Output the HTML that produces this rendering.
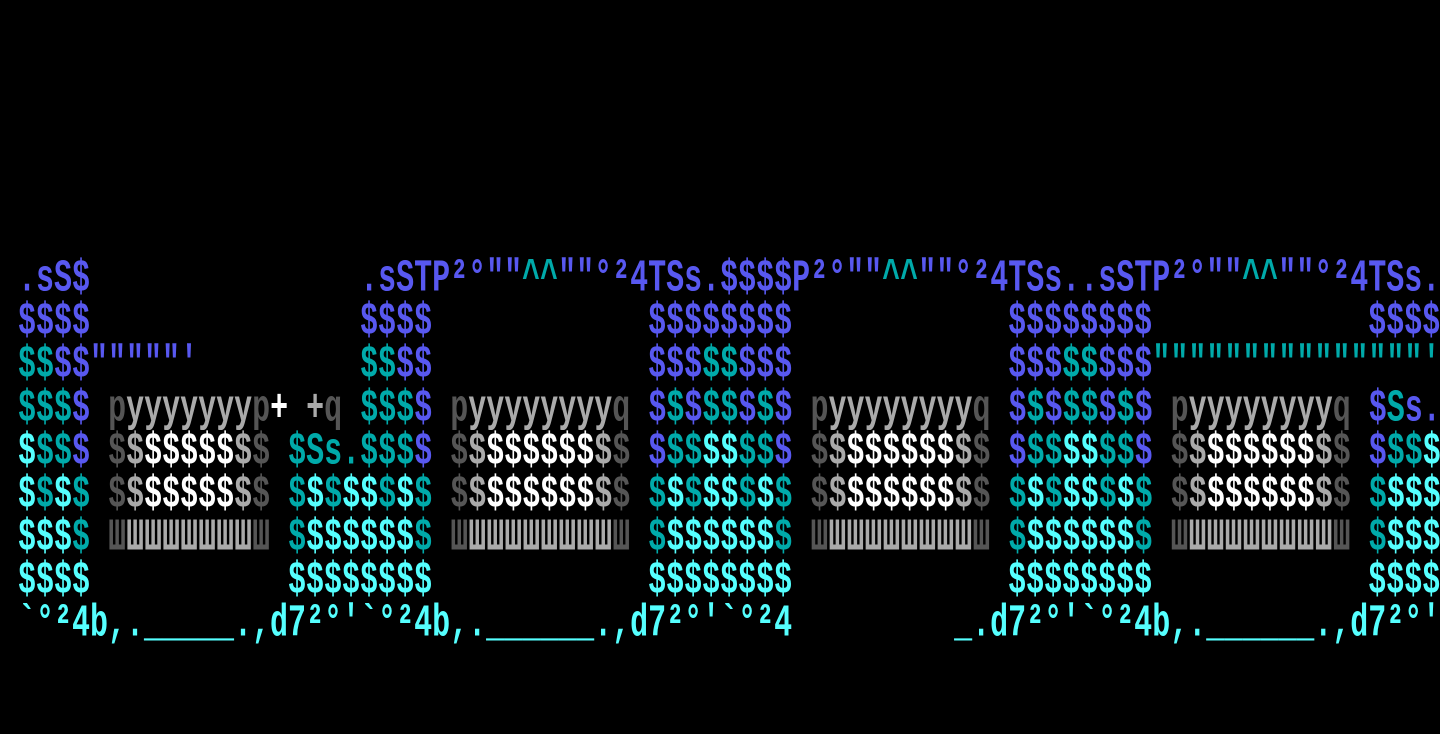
<!DOCTYPE html>
<html><head><meta charset="utf-8"><style>
html,body{margin:0;padding:0;background:#000;width:1440px;height:734px;overflow:hidden}
.r{position:absolute;left:0;height:29px;white-space:pre;font-family:"Liberation Mono",monospace;font-weight:bold;font-size:30px;line-height:29px;letter-spacing:0;transform:scaleY(1.5);transform-origin:0 0;color:#55ffff}
.b{color:#5858f0}.t{color:#00aaaa}.c{color:#55ffff}.d{color:#555}.g{color:#aaa}.w{color:#fff}
</style></head><body>
<div class="r" style="top:259px"> <span class="b">.sS$</span>               <span class="b">.sSTP²°""</span><span class="t">^^</span><span class="b">""°²4TSs.$$$$P²°""</span><span class="t">^^</span><span class="b">""°²4TSs..sSTP²°""</span><span class="t">^^</span><span class="b">""°²4TSs.</span></div>
<div class="r b" style="top:302px"> $$$$               $$$$            $$$$$$$$            $$$$$$$$            $$$$</div>
<div class="r" style="top:345px"> <span class="t">$$</span><span class="b">$$"""""'</span>         <span class="t">$$</span><span class="b">$$</span>            <span class="b">$$$</span><span class="t">$$</span><span class="b">$$$</span>            <span class="b">$$$</span><span class="t">$$</span><span class="b">$$$</span><span class="t">"""""""""""""""'</span></div>
<div class="r" style="top:389px"> <span class="t">$$$</span><span class="b">$</span> <span class="d">p</span><span class="g">yyyyyyy</span><span class="d">p</span><span class="w">+</span> <span class="g">+</span><span class="d">q</span> <span class="t">$$$</span><span class="b">$</span> <span class="d">p</span><span class="g">yyyyyyyy</span><span class="d">q</span> <span class="b">$</span><span class="t">$</span><span class="b">$</span><span class="t">$$</span><span class="b">$</span><span class="t">$</span><span class="b">$</span> <span class="d">p</span><span class="g">yyyyyyyy</span><span class="d">q</span> <span class="b">$</span><span class="t">$</span><span class="b">$</span><span class="t">$$</span><span class="b">$</span><span class="t">$</span><span class="b">$</span> <span class="d">p</span><span class="g">yyyyyyyy</span><span class="d">q</span> <span class="b">$</span><span class="t">S</span><span class="b">s.</span></div>
<div class="r" style="top:432px"> <span class="c">$</span><span class="t">$$</span><span class="b">$</span> <span class="d">$</span><span class="g">$</span><span class="w">$$$$$</span><span class="g">$</span><span class="d">$</span> <span class="t">$Ss.$$$</span><span class="b">$</span> <span class="d">$</span><span class="g">$</span><span class="w">$$$$$$</span><span class="g">$</span><span class="d">$</span> <span class="b">$</span><span class="t">$$</span><span class="c">$$</span><span class="t">$$</span><span class="b">$</span> <span class="d">$</span><span class="g">$</span><span class="w">$$$$$$</span><span class="g">$</span><span class="d">$</span> <span class="b">$</span><span class="t">$$</span><span class="c">$$</span><span class="t">$$</span><span class="b">$</span> <span class="d">$</span><span class="g">$</span><span class="w">$$$$$$</span><span class="g">$</span><span class="d">$</span> <span class="b">$</span><span class="t">$$</span><span class="c">$</span></div>
<div class="r" style="top:475px"> <span class="c">$</span><span class="t">$</span><span class="c">$</span><span class="t">$</span> <span class="d">$</span><span class="g">$</span><span class="w">$$$$$</span><span class="g">$</span><span class="d">$</span> <span class="t">$</span><span class="c">$</span><span class="t">$</span><span class="c">$$</span><span class="t">$</span><span class="c">$</span><span class="t">$</span> <span class="d">$</span><span class="g">$</span><span class="w">$$$$$$</span><span class="g">$</span><span class="d">$</span> <span class="t">$</span><span class="c">$</span><span class="t">$</span><span class="c">$$</span><span class="t">$</span><span class="c">$</span><span class="t">$</span> <span class="d">$</span><span class="g">$</span><span class="w">$$$$$$</span><span class="g">$</span><span class="d">$</span> <span class="t">$</span><span class="c">$</span><span class="t">$</span><span class="c">$$</span><span class="t">$</span><span class="c">$</span><span class="t">$</span> <span class="d">$</span><span class="g">$</span><span class="w">$$$$$$</span><span class="g">$</span><span class="d">$</span> <span class="t">$</span><span class="c">$$$</span></div>
<div class="r" style="top:518px"> <span class="c">$$$</span><span class="t">$</span> <span class="d">Ш</span><span class="g">ШШШШШШШ</span><span class="d">Ш</span> <span class="t">$</span><span class="c">$$$$$$</span><span class="t">$</span> <span class="d">Ш</span><span class="g">ШШШШШШШШ</span><span class="d">Ш</span> <span class="t">$</span><span class="c">$$$$$$</span><span class="t">$</span> <span class="d">Ш</span><span class="g">ШШШШШШШШ</span><span class="d">Ш</span> <span class="t">$</span><span class="c">$$$$$$</span><span class="t">$</span> <span class="d">Ш</span><span class="g">ШШШШШШШШ</span><span class="d">Ш</span> <span class="t">$</span><span class="c">$$$</span></div>
<div class="r c" style="top:561px"> $$$$           $$$$$$$$            $$$$$$$$            $$$$$$$$            $$$$</div>
<div class="r c" style="top:604px"> `°²4b,._____.,d7²°'`°²4b,.______.,d7²°'`°²4         _.d7²°'`°²4b,.______.,d7²°'</div>
</body></html>
